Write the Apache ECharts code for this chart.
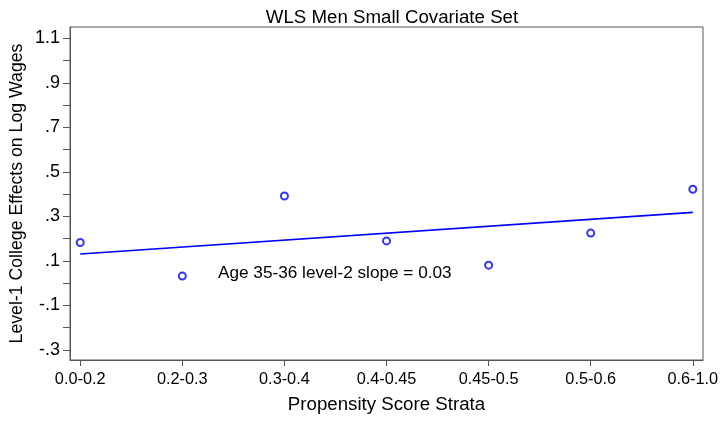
<!DOCTYPE html>
<html>
<head>
<meta charset="utf-8">
<script src="https://cdn.jsdelivr.net/npm/echarts@6/dist/echarts.min.js"></script>
<style>html,body{margin:0;padding:0;background:#fff}#c{width:725px;height:422px}</style>
</head>
<body>
<div id="c"></div>
<script>
const categories = ['0.0-0.2','0.2-0.3','0.3-0.4','0.4-0.45','0.45-0.5','0.5-0.6','0.6-1.0'];
const effects = [0.183, 0.032, 0.392, 0.190, 0.081, 0.225, 0.422];
const fitStart = 0.131;
const fitEnd = 0.318;
const yTickValues = [-0.3,-0.2,-0.1,0,0.1,0.2,0.3,0.4,0.5,0.6,0.7,0.8,0.9,1.0,1.1];
const yLabelValues = [-0.3,-0.1,0.1,0.3,0.5,0.7,0.9,1.1];
const annotation = 'Age 35-36 level-2 slope = 0.03';

const FONT = '"Liberation Sans", Arial, sans-serif';
const idx = categories.map((c,i)=>i);
function fmtY(v){
  let s = (Math.round(v*10)/10).toFixed(1);
  s = s.replace(/^0\./,'.').replace(/^-0\./,'-.');
  return s;
}
const chart = echarts.init(document.getElementById('c'));
chart.setOption({
  animation:false,
  backgroundColor:'#fff',
  title:{text:'WLS Men Small Covariate Set',left:387,textAlign:'center',top:3,
    textStyle:{fontFamily:FONT,fontSize:18.7,fontWeight:'normal',color:'#000'}},
  grid:{left:70,right:22,top:27,bottom:62,show:true,borderColor:'#555',borderWidth:1,
    outerBoundsMode:'none',containLabel:false},
  xAxis:{type:'value',min:-0.1,max:6.1,
    name:'Propensity Score Strata',nameLocation:'middle',nameGap:35,nameMoveOverlap:false,
    nameTextStyle:{fontFamily:FONT,fontSize:18.7,color:'#000',verticalAlign:'top'},
    axisLine:{show:true,onZero:false,lineStyle:{color:'#555',width:1}},
    axisTick:{show:true,length:6,lineStyle:{color:'#555'},customValues:idx},
    axisLabel:{customValues:idx,margin:12,fontFamily:FONT,fontSize:16.3,color:'#000',
      formatter:v=>categories[Math.round(v)]},
    splitLine:{show:false}},
  yAxis:{type:'value',min:-0.345,max:1.151,
    name:'Level-1 College Effects on Log Wages',nameLocation:'middle',nameGap:44,nameMoveOverlap:false,
    nameTextStyle:{fontFamily:FONT,fontSize:17.7,color:'#000'},
    axisLine:{show:true,onZero:false,lineStyle:{color:'#555',width:1}},
    axisTick:{show:true,length:7,lineStyle:{color:'#555'},customValues:yTickValues},
    axisLabel:{customValues:yLabelValues,margin:10,fontFamily:FONT,fontSize:18,color:'#000',
      formatter:fmtY},
    splitLine:{show:false}},
  graphic:[{type:'text',left:218,top:265,style:{text:annotation,font:'17.2px '+FONT,fill:'#000'}}],
  series:[
    {type:'line',data:[[idx[0],fitStart],[idx[idx.length-1],fitEnd]],symbol:'none',
      lineStyle:{color:'#0000ff',width:1.6},z:2},
    {type:'scatter',data:idx.map((i)=>[i,effects[i]]),symbol:'circle',symbolSize:7,
      itemStyle:{color:'#fff',borderColor:'#0000ff',borderWidth:2},z:3}
  ]
});
</script>
</body>
</html>
